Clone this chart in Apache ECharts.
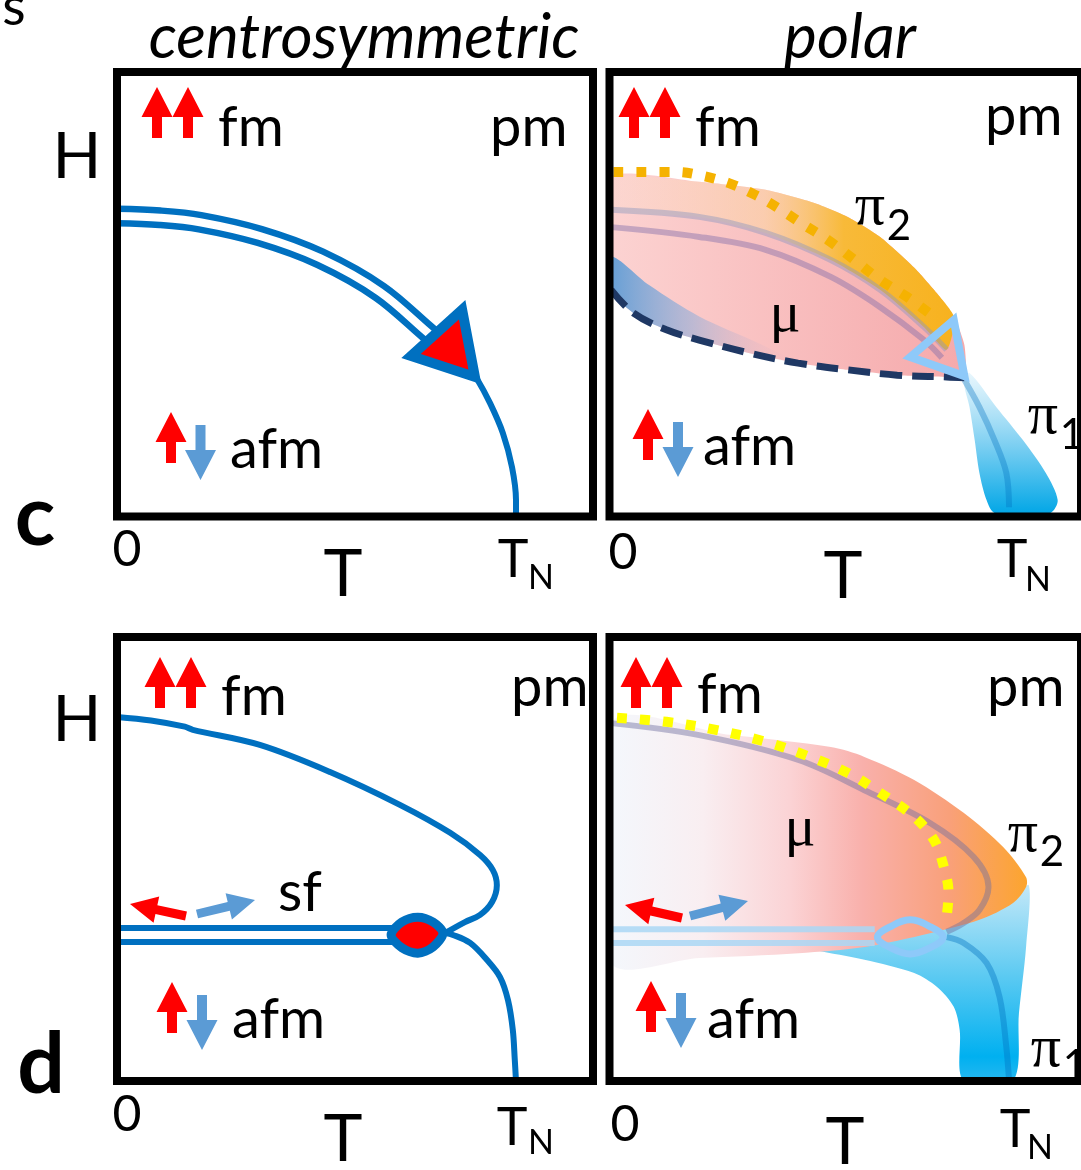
<!DOCTYPE html>
<html>
<head>
<meta charset="utf-8">
<script src="https://cdn.jsdelivr.net/npm/echarts@6/dist/echarts.min.js"></script>
<style>
  html, body { margin: 0; padding: 0; background: #fff; }
  #chart { width: 1081px; height: 1170px; }
</style>
</head>
<body>
<div id="chart"></div>
<script>
// Schematic H–T phase diagrams. T is in units of T_N, H in units of the panel height.

// ---- axis text ----
const columnTitles = ['centrosymmetric', 'polar'];
const panelLetters = ['c', 'd'];
const axisNames = ['T', 'H'];
const xTickLabels = ['0', 'T', 'N'];           // "0" and T_N (T with subscript N)
const phaseNames = ['fm', 'pm', 'afm', 'sf'];

// ---- panel c, centrosymmetric ----
const cCentroBoundary = [[0, 0.676], [0.108, 0.672], [0.208, 0.662], [0.358, 0.631], [0.509, 0.581],
  [0.659, 0.505], [0.789, 0.406], [0.822, 0.385]];
const cCentroTail = [[0.890, 0.322], [0.902, 0.310], [0.935, 0.255], [0.967, 0.188], [0.990, 0.111],
  [1.0, 0.037], [1.0, 0]];
const cCentroTriangle = [[0.865, 0.465], [0.737, 0.361], [0.897, 0.314]];

// ---- panel c, polar ----
const cPolarUpper = [[0.004, 0.764], [0.227, 0.753], [0.395, 0.735], [0.520, 0.705], [0.603, 0.674],
  [0.685, 0.629], [0.770, 0.561], [0.828, 0.503], [0.873, 0.447], [0.898, 0.386], [0.903, 0.312]];
const cPolarLower = [[0.004, 0.510], [0.060, 0.458], [0.144, 0.420], [0.227, 0.397], [0.352, 0.368],
  [0.477, 0.345], [0.603, 0.330], [0.728, 0.318], [0.853, 0.314], [0.898, 0.312]];
const cPolarDotted = [[0.010, 0.775], [0.169, 0.775], [0.227, 0.768], [0.302, 0.750], [0.370, 0.723],
  [0.427, 0.694], [0.485, 0.660], [0.553, 0.622], [0.620, 0.577], [0.685, 0.532], [0.753, 0.494], [0.816, 0.453]];
const cGhostUpper = [[0.004, 0.690], [0.227, 0.674], [0.395, 0.638], [0.560, 0.577], [0.685, 0.510],
  [0.796, 0.426], [0.853, 0.375]];
const cGhostLower = [[0.004, 0.651], [0.227, 0.629], [0.395, 0.600], [0.560, 0.539], [0.685, 0.471],
  [0.796, 0.397], [0.841, 0.357]];
const cPolarBlueShade = [[0.004, 0.585], [0.004, 0.510], [0.060, 0.458], [0.144, 0.420], [0.227, 0.397],
  [0.352, 0.368], [0.477, 0.345], [0.377, 0.390], [0.227, 0.450], [0.101, 0.520]];
const cPolarTriangle = [[0.871, 0.442], [0.761, 0.359], [0.898, 0.316]];
const cPi1Wedge = [[0.896, 0.307], [0.911, 0.246], [0.924, 0.172], [0.936, 0.098], [0.954, 0.037],
  [0.974, 0.008], [1.054, 0.004], [1.116, 0.008], [1.134, 0.037], [1.104, 0.098], [1.046, 0.172],
  [0.979, 0.246], [0.911, 0.323]];
const cPi1Line = [[0.898, 0.307], [0.936, 0.246], [0.974, 0.172], [1.004, 0.098], [1.011, 0.021]];

// ---- panel d, centrosymmetric ----
const dCentroUpper = [[0, 0.820], [0.085, 0.812], [0.170, 0.798], [0.190, 0.791], [0.358, 0.757],
  [0.534, 0.696], [0.709, 0.622], [0.835, 0.559], [0.910, 0.509], [0.942, 0.475], [0.952, 0.441],
  [0.940, 0.403], [0.910, 0.374], [0.872, 0.358], [0.822, 0.333]];
const dCentroLower = [[0.822, 0.333], [0.842, 0.329], [0.885, 0.311], [0.927, 0.273], [0.960, 0.234],
  [0.980, 0.182], [0.992, 0.115], [0.997, 0.047], [1.0, 0]];
const dCentroSpinFlop = [[0, 0.329], [0.700, 0.329]];
const dCentroLens = [[0.687, 0.329], [0.714, 0.358], [0.754, 0.369], [0.792, 0.358], [0.817, 0.333],
  [0.792, 0.302], [0.754, 0.288], [0.714, 0.300]];

// ---- panel d, polar ----
const dPolarDotted = [[0.019, 0.818], [0.144, 0.809], [0.269, 0.791], [0.395, 0.764], [0.495, 0.734],
  [0.603, 0.694], [0.685, 0.649], [0.771, 0.595], [0.821, 0.543], [0.846, 0.482], [0.858, 0.423], [0.853, 0.369]];
const dPolarRegion = [[0.004, 0.806], [0.309, 0.779], [0.560, 0.752], [0.645, 0.730], [0.771, 0.678],
  [0.896, 0.604], [0.996, 0.527], [1.054, 0.459], [1.054, 0.437], [1.021, 0.401], [0.936, 0.363],
  [0.811, 0.333], [0.645, 0.302], [0.478, 0.288], [0.227, 0.277], [0.004, 0.268]];
const dPolarGhost = [[0.004, 0.806], [0.227, 0.779], [0.478, 0.723], [0.645, 0.655], [0.811, 0.581],
  [0.921, 0.505], [0.959, 0.437], [0.936, 0.385], [0.896, 0.356], [0.853, 0.336]];
const dPolarPi1 = [[0.460, 0.311], [0.603, 0.322], [0.728, 0.329], [0.896, 0.363], [1.021, 0.408],
  [1.061, 0.441], [1.054, 0.302], [1.036, 0.153], [1.021, 0], [0.896, 0], [0.886, 0.115], [0.871, 0.167],
  [0.828, 0.212], [0.771, 0.243], [0.645, 0.273], [0.520, 0.295]];
const dPolarSfUpper = [[0.004, 0.342], [0.671, 0.342]];
const dPolarSfLower = [[0.004, 0.311], [0.671, 0.311]];
const dPolarTail = [[0.853, 0.324], [0.896, 0.311], [0.954, 0.266], [0.987, 0.189], [1.004, 0.077], [1.011, 0]];
const dPolarLens = [[0.678, 0.324], [0.716, 0.350], [0.761, 0.363], [0.806, 0.350], [0.844, 0.324],
  [0.806, 0.298], [0.761, 0.286], [0.716, 0.298]];

// ---- colours ----
const BLUE = '#0070c0';
const RED = '#ff0000';
const SPIN_BLUE = '#5b9bd5';
const LIGHT_BLUE = '#8ec9f9';
const NAVY = '#1f3864';
const FONT = 'Lato, "Liberation Sans", sans-serif';
const SERIF = '"Liberation Serif", "DejaVu Serif", serif';

const chart = echarts.init(document.getElementById('chart'));
const G = echarts.graphic;

const frames = [
  { left: 117, top: 72, width: 476, height: 444.5 },
  { left: 609.5, top: 72, width: 476, height: 444.5 },
  { left: 117, top: 637, width: 476, height: 444 },
  { left: 609.5, top: 637, width: 476, height: 444 }
];

function line(grid, data, color, width, z, extra) {
  return Object.assign({
    type: 'line', xAxisIndex: grid, yAxisIndex: grid, data: data, smooth: 0.35,
    symbol: 'none', silent: true, z: z || 3,
    lineStyle: { color: color, width: width, cap: 'butt', join: 'round' }
  }, extra || {});
}

function shape(grid, pts, style, z, smooth) {
  return {
    type: 'custom', coordinateSystem: 'cartesian2d', xAxisIndex: grid, yAxisIndex: grid,
    data: pts, z: z || 2, silent: true, clip: true,
    renderItem: function (params, api) {
      if (params.dataIndex !== 0) return null;
      return {
        type: 'polygon',
        shape: { points: pts.map(function (p) { return api.coord(p); }), smooth: smooth || 0 },
        style: style
      };
    }
  };
}

const series = [
  // c, centrosymmetric
  line(0, cCentroBoundary, BLUE, 21, 3),
  line(0, cCentroBoundary, '#fff', 8, 4),
  line(0, cCentroTail, BLUE, 6, 3),
  shape(0, cCentroTriangle, { fill: RED, stroke: BLUE, lineWidth: 10, lineJoin: 'miter' }, 6),

  // c, polar
  shape(1, cPolarUpper.concat(cPolarLower.slice().reverse()),
    { fill: new G.LinearGradient(0, 0, 1, 0, [{ offset: 0, color: '#fcd3d2' }, { offset: 1, color: '#f5a9ab' }]) }, 2, 0.2),
  shape(1, cPolarUpper.slice(0, 9).concat(cGhostUpper.slice().reverse()),
    { fill: new G.LinearGradient(0, 0, 1, 0, [
      { offset: 0, color: 'rgba(253,226,205,0.2)' }, { offset: 0.45, color: 'rgba(252,214,160,0.55)' },
      { offset: 0.68, color: 'rgba(248,186,50,0.95)' }, { offset: 1, color: 'rgba(247,178,30,1)' }]) }, 3, 0.2),
  shape(1, cPolarBlueShade,
    { fill: new G.LinearGradient(0, 0, 1, 0, [
      { offset: 0, color: 'rgba(91,155,213,0.95)' }, { offset: 0.45, color: 'rgba(130,170,220,0.5)' },
      { offset: 1, color: 'rgba(240,180,190,0)' }]) }, 3, 0.3),
  shape(1, cPi1Wedge,
    { fill: new G.LinearGradient(0, 0, 0, 1, [
      { offset: 0, color: 'rgba(226,244,252,0.8)' }, { offset: 0.5, color: '#7fd0f2' },
      { offset: 1, color: '#00a6e6' }]) }, 2, 0.3),
  line(1, cPi1Line, 'rgba(0,112,192,0.35)', 6, 3),
  line(1, cGhostUpper, 'rgba(140,150,190,0.45)', 6, 4),
  line(1, cGhostLower, 'rgba(130,110,170,0.45)', 6, 4),
  line(1, cPolarDotted, '#f5b201', 10, 5, { lineStyle: { color: '#f5b201', width: 10, type: [10, 13], cap: 'butt' } }),
  line(1, cPolarLower, NAVY, 7, 5, { lineStyle: { color: NAVY, width: 7, type: [22, 10], cap: 'butt' } }),
  shape(1, cPolarTriangle, { fill: 'none', stroke: LIGHT_BLUE, lineWidth: 8, lineJoin: 'miter' }, 6),

  // d, centrosymmetric
  line(2, dCentroUpper, BLUE, 6, 3),
  line(2, dCentroLower, BLUE, 6, 3),
  line(2, dCentroSpinFlop, BLUE, 20, 3, { smooth: false }),
  line(2, dCentroSpinFlop, '#fff', 8, 4, { smooth: false }),
  shape(2, dCentroLens, { fill: RED, stroke: BLUE, lineWidth: 9 }, 6, 0.3),

  // d, polar
  shape(3, dPolarPi1,
    { fill: new G.LinearGradient(0, 0, 0, 1, [
      { offset: 0, color: '#c4e8f8' }, { offset: 0.45, color: '#5ccaf2' },
      { offset: 0.85, color: '#00b0f0' }, { offset: 1, color: '#30baf0' }]) }, 2, 0.3),
  shape(3, dPolarRegion,
    { fill: new G.LinearGradient(0, 0, 1, 0, [
      { offset: 0, color: '#f3f9fe' }, { offset: 0.25, color: '#f9eef1' }, { offset: 0.45, color: '#fbd3d5' },
      { offset: 0.62, color: '#f9b0ab' }, { offset: 0.82, color: '#f9a07a' }, { offset: 1, color: '#fca52e' }]) }, 3, 0.3),
  line(3, dPolarGhost, 'rgba(110,110,160,0.45)', 6, 4),
  line(3, dPolarSfUpper, 'rgba(170,215,245,0.85)', 6, 4, { smooth: false }),
  line(3, dPolarSfLower, 'rgba(170,215,245,0.85)', 6, 4, { smooth: false }),
  line(3, dPolarTail, 'rgba(0,112,192,0.4)', 6, 4),
  line(3, dPolarDotted, '#ffff00', 10, 5, { lineStyle: { color: '#ffff00', width: 10, type: [10, 13], cap: 'butt' } }),
  shape(3, dPolarLens, { fill: 'none', stroke: LIGHT_BLUE, lineWidth: 7 }, 6, 0.4)
];

// ---- spin arrows and text ----
function arrowPts(x1, y1, x2, y2, shaft, headW, headL) {
  const dx = x2 - x1, dy = y2 - y1, L = Math.hypot(dx, dy);
  const ux = dx / L, uy = dy / L, nx = -uy, ny = ux;
  const bx = x2 - ux * headL, by = y2 - uy * headL;
  return [[x1 + nx * shaft / 2, y1 + ny * shaft / 2], [bx + nx * shaft / 2, by + ny * shaft / 2],
    [bx + nx * headW / 2, by + ny * headW / 2], [x2, y2], [bx - nx * headW / 2, by - ny * headW / 2],
    [bx - nx * shaft / 2, by - ny * shaft / 2], [x1 - nx * shaft / 2, y1 - ny * shaft / 2]];
}
function arrow(x1, y1, x2, y2, color, shaft, headW, headL) {
  return { type: 'polygon', z: 50, silent: true,
    shape: { points: arrowPts(x1, y1, x2, y2, shaft || 10, headW || 31, headL || 30) }, style: { fill: color } };
}
function text(str, x, y, font, align) {
  const a = align || 'center';
  return { type: 'text', z: 50, silent: true,
    style: { text: str, x: x, y: y, font: font, fill: '#000', align: a, verticalAlign: 'middle',
      textAlign: a, textVerticalAlign: 'middle' } };
}

const big = '56px ' + FONT;
const elements = [
  text('s', 14, 8, '54px ' + FONT),
  text(columnTitles[0], 364, 38, 'italic 62px ' + FONT),
  text(columnTitles[1], 850, 38, 'italic 62px ' + FONT),
  text(axisNames[1], 77, 157, '64px ' + FONT),
  text(axisNames[1], 77, 720, '64px ' + FONT),
  text(panelLetters[0], 35, 518, 'bold 84px ' + FONT),
  text(panelLetters[1], 41, 1066, 'bold 84px ' + FONT),

  // phase names
  text(phaseNames[0], 218, 128, big, 'left'),
  text(phaseNames[0], 695, 128, big, 'left'),
  text(phaseNames[0], 221, 697, big, 'left'),
  text(phaseNames[0], 697, 695, big, 'left'),
  text(phaseNames[1], 490, 128, big, 'left'),
  text(phaseNames[1], 985, 117, big, 'left'),
  text(phaseNames[1], 511, 688, big, 'left'),
  text(phaseNames[1], 987, 688, big, 'left'),
  text(phaseNames[2], 230, 450, big, 'left'),
  text(phaseNames[2], 703, 447, big, 'left'),
  text(phaseNames[2], 232, 1020, big, 'left'),
  text(phaseNames[2], 707, 1020, big, 'left'),
  text(phaseNames[3], 300, 893, big),

  // order parameter labels
  text('\u03bc', 785, 316, '58px ' + SERIF),
  text('\u03bc', 800, 830, '58px ' + SERIF),
  text('\u03c0', 870, 208, '60px ' + SERIF),
  text('2', 899, 226, '42px ' + FONT),
  text('\u03c0', 1043, 417, '60px ' + SERIF),
  text('1', 1072, 435, '42px ' + FONT),
  text('\u03c0', 1023, 835, '60px ' + SERIF),
  text('2', 1052, 852, '42px ' + FONT),
  text('\u03c0', 1046, 1050, '60px ' + SERIF),
  text('1', 1075, 1066, '42px ' + FONT),

  // x-axis ticks and titles
  text(xTickLabels[0], 127, 550, '50px ' + FONT),
  text(xTickLabels[0], 623, 553, '50px ' + FONT),
  text(xTickLabels[0], 127, 1115, '50px ' + FONT),
  text(xTickLabels[0], 625, 1125, '50px ' + FONT),
  text(axisNames[0], 343, 575, '66px ' + FONT),
  text(axisNames[0], 843, 577, '66px ' + FONT),
  text(axisNames[0], 343, 1140, '66px ' + FONT),
  text(axisNames[0], 845, 1143, '66px ' + FONT),
  text(xTickLabels[1], 513, 560, '52px ' + FONT),
  text(xTickLabels[2], 541, 578, '34px ' + FONT),
  text(xTickLabels[1], 1012, 560, '52px ' + FONT),
  text(xTickLabels[2], 1038, 580, '34px ' + FONT),
  text(xTickLabels[1], 512, 1128, '52px ' + FONT),
  text(xTickLabels[2], 541, 1143, '34px ' + FONT),
  text(xTickLabels[1], 1015, 1130, '52px ' + FONT),
  text(xTickLabels[2], 1040, 1148, '34px ' + FONT),

  // spin arrows: ferromagnetic
  arrow(157, 138, 157, 87, RED), arrow(188, 138, 188, 87, RED),
  arrow(634, 138, 634, 87, RED), arrow(665, 138, 665, 87, RED),
  arrow(160, 708, 160, 657, RED), arrow(191, 708, 191, 657, RED),
  arrow(636, 708, 636, 657, RED), arrow(667, 708, 667, 657, RED),
  // antiferromagnetic
  arrow(171, 463, 171, 412, RED), arrow(200.5, 425, 200.5, 480, SPIN_BLUE),
  arrow(648, 460, 648, 409, RED), arrow(678, 422, 678, 477, SPIN_BLUE),
  arrow(172, 1033, 172, 982, RED), arrow(202, 995, 202, 1050, SPIN_BLUE),
  arrow(651, 1032, 651, 981, RED), arrow(681, 993, 681, 1048, SPIN_BLUE),
  // spin flop
  arrow(186, 916, 130, 904, RED, 9, 27, 27), arrow(197, 914, 255, 900, SPIN_BLUE, 9, 27, 27),
  arrow(682, 918, 625, 905, RED, 9, 27, 27), arrow(690, 916, 748, 901, SPIN_BLUE, 9, 27, 27)
];

chart.setOption({
  animation: false,
  backgroundColor: '#fff',
  grid: frames.map(function (f) {
    return Object.assign({ show: true, borderColor: '#000', borderWidth: 8, backgroundColor: 'transparent', z: 20 }, f);
  }),
  xAxis: frames.map(function (f, i) { return { gridIndex: i, type: 'value', min: 0, max: 1.193, show: false }; }),
  yAxis: frames.map(function (f, i) { return { gridIndex: i, type: 'value', min: 0, max: 1, show: false }; }),
  series: series,
  graphic: { elements: elements }
});
</script>
</body>
</html>
